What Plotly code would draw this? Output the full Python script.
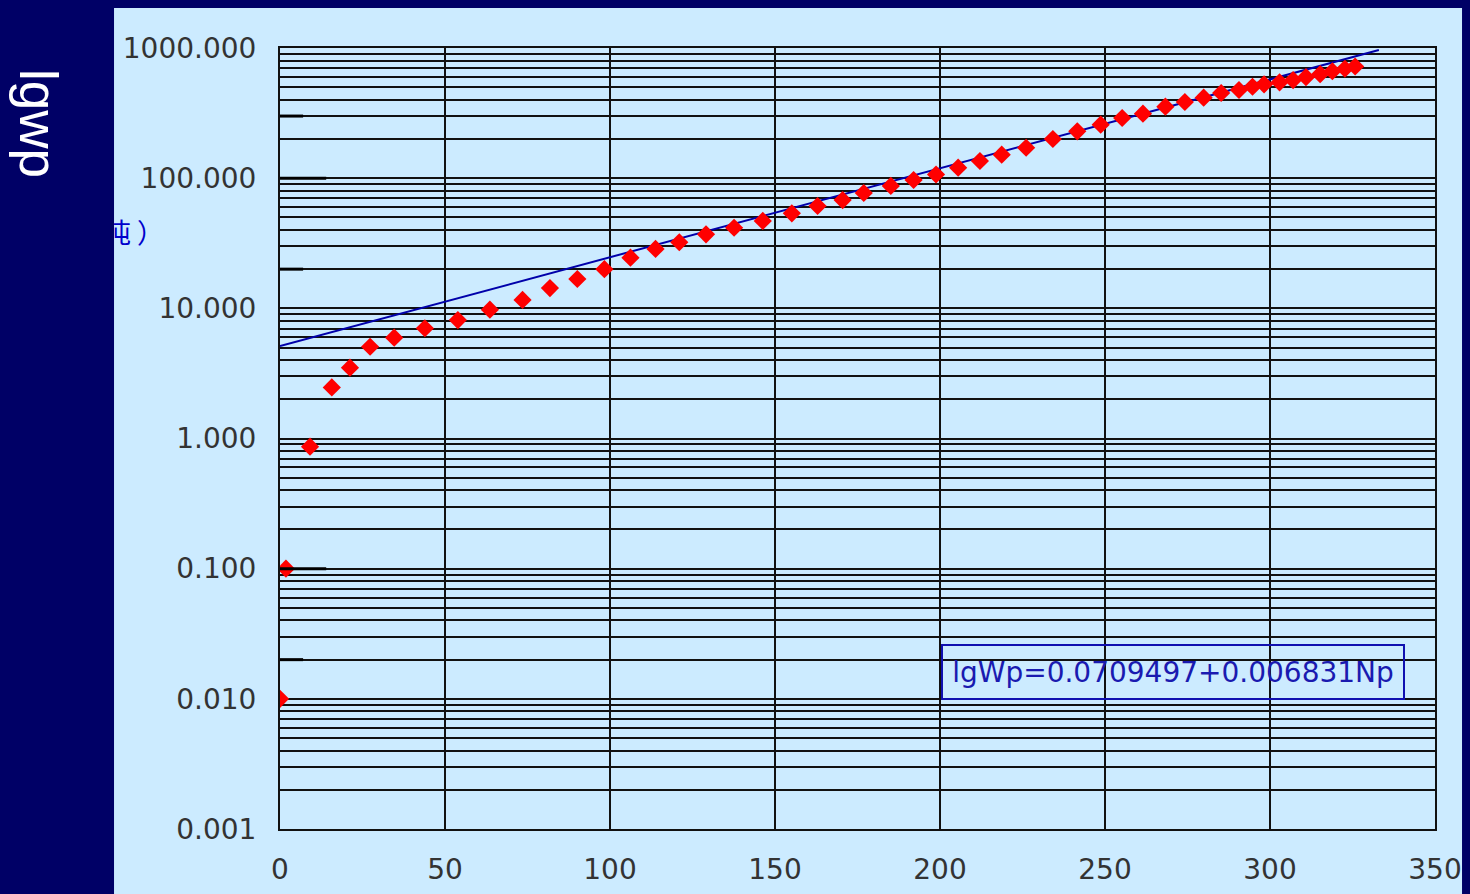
import numpy as np
import plotly.graph_objects as go

# Cumulative oil production Np and cumulative water production Wp
np_values = [0.0, 1.8, 9.1, 15.7, 21.2, 27.3, 34.6, 43.9, 53.9, 63.6,
             73.5, 81.8, 90.1, 98.3, 106.2, 113.8, 121.0, 129.1, 137.6, 146.3,
             155.1, 162.9, 170.5, 176.9, 185.1, 192.0, 198.8, 205.5, 212.1, 218.7,
             226.1, 234.2, 241.6, 248.7, 255.2, 261.5, 268.3, 274.2, 279.9, 285.2,
             290.6, 294.7, 298.2, 302.9, 307.0, 310.9, 315.2, 318.9, 322.7, 325.8]
wp_values = [0.01, 0.1, 0.865, 2.47, 3.50, 5.07, 5.95, 7.03, 8.13, 9.76,
             11.6, 14.3, 16.8, 20.0, 24.5, 28.6, 32.2, 37.0, 41.6, 46.9,
             53.7, 61.1, 67.9, 76.9, 87.1, 96.8, 106.7, 120.3, 135.5, 151.4,
             171.3, 199.9, 229.0, 257.5, 290.0, 312.9, 354.0, 384.8, 415.0, 451.0,
             475.5, 504.0, 526.0, 545.0, 567.0, 597.0, 629.0, 663.0, 693.0, 721.0]

# Fitted trend: lg(Wp) = a + b * Np
fit_intercept = 0.709497
fit_slope = 0.006831
fit_np = [0.0, 333.0]
equation_text = "lgWp=0.0709497+0.006831Np"

x_ticks = [0, 50, 100, 150, 200, 250, 300, 350]
y_decades = [-3, -2, -1, 0, 1, 2]
y_major_text = ["0.001", "0.010", "0.100", "1.000", "10.000", "100.000", "1000.000"]

# short heavy marks on the left edge: (level, length in Np)
edge_marks = [(300, 7), (100, 14), (20, 7), (0.1, 14), (0.02, 7)]

NAVY = "#000066"
PANEL = "#CCEBFF"
FONT = "DejaVu Sans"

# every 1..9 x decade gets a grid line, only decades get labels
y_tickvals = [k * 10.0 ** d for d in y_decades for k in range(1, 10)] + [1000.0]
y_ticktext = [y_major_text[i] if k == 1 else ""
              for i, d in enumerate(y_decades) for k in range(1, 10)] + [y_major_text[-1]]

fit_x = np.array(fit_np)
fit_y = 10 ** (fit_intercept + fit_slope * fit_x)

fig = go.Figure()
fig.add_trace(go.Scatter(x=fit_x, y=fit_y, mode="lines",
                         line=dict(color="#0000AA", width=2), hoverinfo="skip"))
fig.add_trace(go.Scatter(x=np_values, y=wp_values, mode="markers",
                         marker=dict(symbol="diamond", size=14, color="#FF0000",
                                     line=dict(width=0))))

shapes = [dict(type="rect", xref="paper", yref="paper",
               x0=-0.1437, x1=1.0234, y0=-0.1, y1=1.0512,
               fillcolor=PANEL, line=dict(width=0), layer="below")]
for level, length in edge_marks:
    shapes.append(dict(type="line", xref="x", yref="y", x0=0, x1=length,
                       y0=level, y1=level, line=dict(color="black", width=3)))

annotations = [
    # partially hidden unit label
    dict(text="（万吨 ）", xref="paper", yref="paper", x=(166 - 280) / 1155, y=(829 - 231) / 781,
         xanchor="right", yanchor="middle", showarrow=False,
         font=dict(family="Noto Sans CJK SC", size=27, color="#0000CC")),
    # navy strip covering the left margin
    dict(text=" ", xref="paper", yref="paper", x=(0 - 280) / 1155, y=0.5,
         xanchor="left", yanchor="middle", showarrow=False, width=114, height=1000,
         bgcolor=NAVY, borderpad=0, borderwidth=0),
    dict(text="lgwp", xref="paper", yref="paper", x=(39 - 280) / 1155, y=(829 - 123) / 781,
         xanchor="center", yanchor="middle", showarrow=False, textangle=90,
         font=dict(family="Liberation Sans", size=53, color="white")),
    dict(text=equation_text, xref="paper", yref="paper",
         x=(1173 - 280) / 1155, y=(829 - 672) / 781,
         xanchor="center", yanchor="middle", showarrow=False,
         width=460, height=52, borderpad=0, bordercolor="#1010B0", borderwidth=2,
         font=dict(family=FONT, size=28, color="#1a1aB0")),
]

fig.update_layout(
    width=1470, height=894,
    margin=dict(l=280, r=35, t=48, b=65, autoexpand=False),
    paper_bgcolor=NAVY, plot_bgcolor=PANEL,
    showlegend=False,
    shapes=shapes, annotations=annotations,
    xaxis=dict(range=[0, 350], tickvals=x_ticks, ticktext=[str(v) for v in x_ticks],
               showgrid=True, gridcolor="#111111", gridwidth=2,
               showline=True, mirror=True, linecolor="#111111", linewidth=2,
               ticks="", zeroline=False, ticklabelstandoff=14, automargin=False,
               tickfont=dict(family=FONT, size=28, color="#333333")),
    yaxis=dict(type="log", range=[-3, 3], tickvals=y_tickvals, ticktext=y_ticktext,
               showgrid=True, gridcolor="#111111", gridwidth=2,
               showline=True, mirror=True, linecolor="#111111", linewidth=2,
               ticks="", zeroline=False, ticklabelstandoff=16, automargin=False,
               tickfont=dict(family=FONT, size=28, color="#333333")),
)

fig.write_html("out.html")
